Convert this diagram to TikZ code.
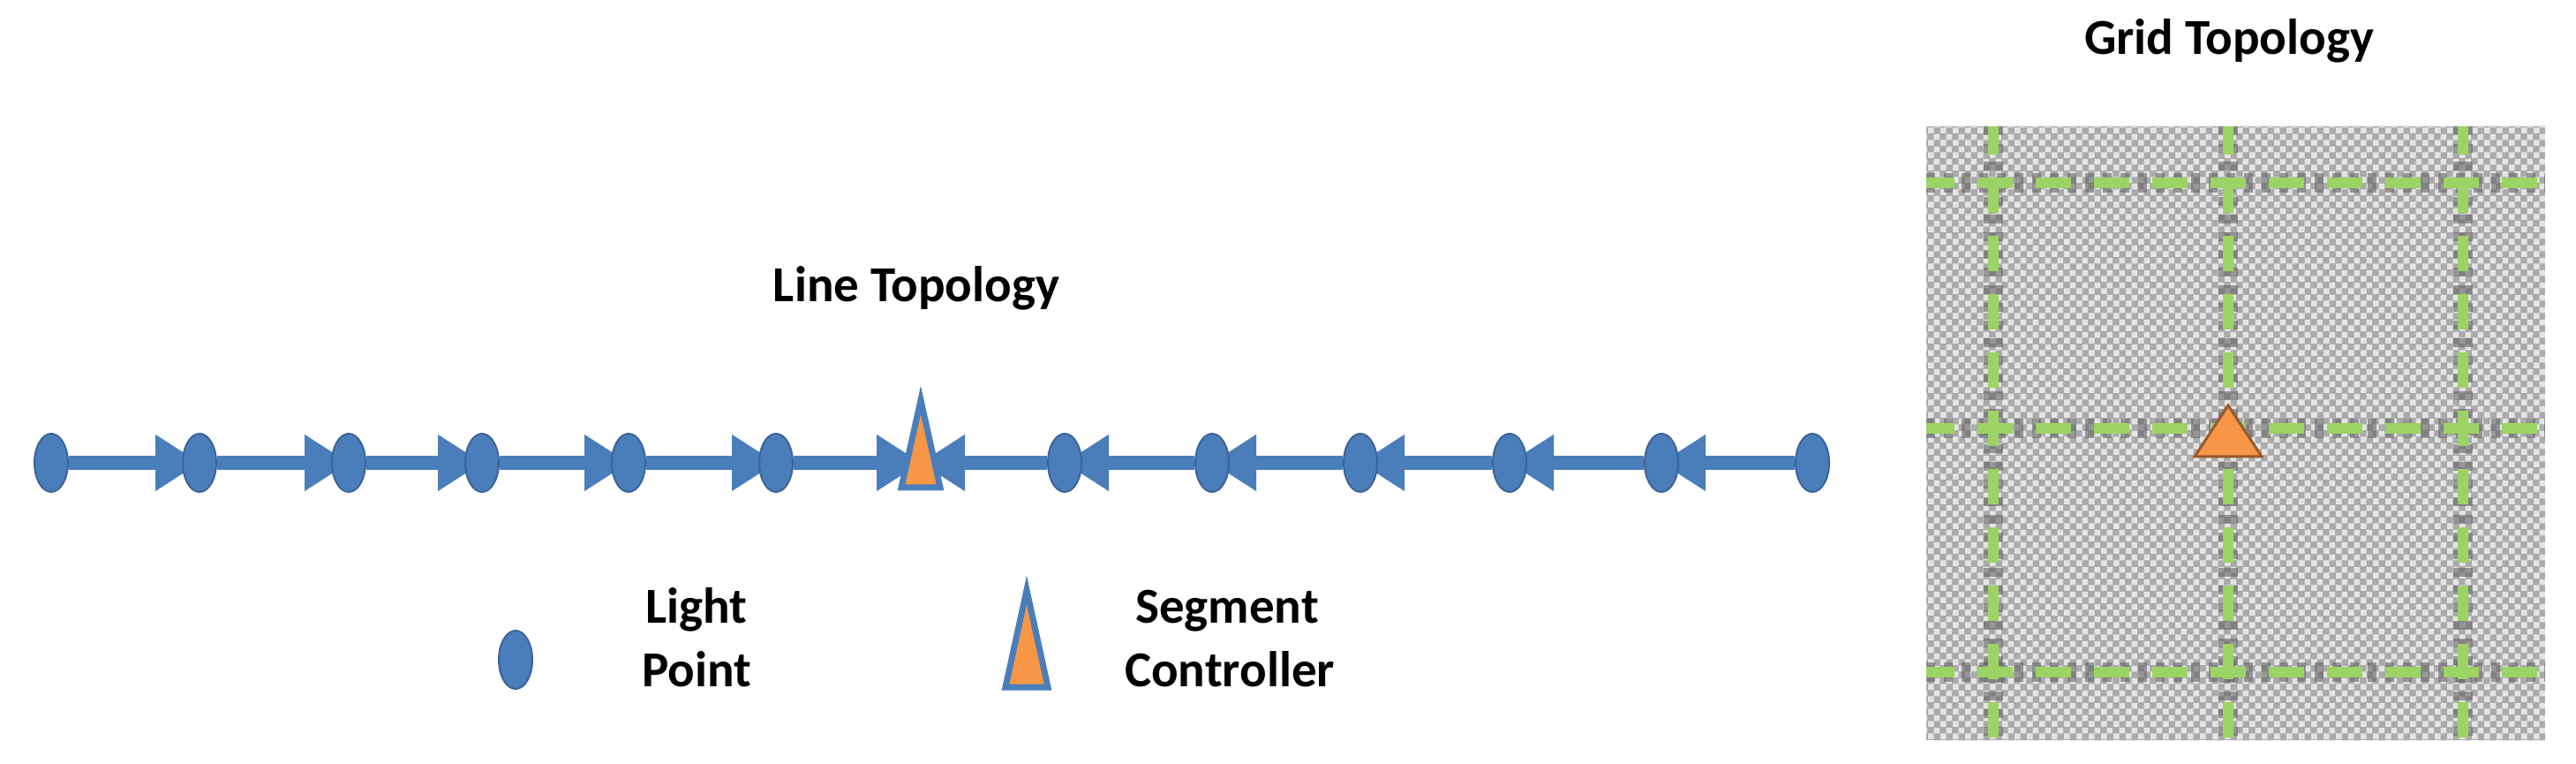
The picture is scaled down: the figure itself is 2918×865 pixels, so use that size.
\documentclass[tikz,border=0pt]{standalone}
\usepackage{fontspec}
\setmainfont{Carlito}
\usetikzlibrary{arrows.meta,patterns,shapes.geometric,calc}
\pgfdeclarepatternformonly{gridcheck}{\pgfpointorigin}{\pgfqpoint{7pt}{7pt}}{\pgfqpoint{7pt}{7pt}}{%
  \pgfpathrectangle{\pgfpointorigin}{\pgfqpoint{3.5pt}{3.5pt}}%
  \pgfpathrectangle{\pgfqpoint{3.5pt}{3.5pt}}{\pgfqpoint{3.5pt}{3.5pt}}%
  \pgfusepath{fill}}
\pgfdeclarelayer{bg}
\pgfsetlayers{bg,main}
\definecolor{lineblue}{RGB}{74,126,187}
\definecolor{darkblue}{RGB}{60,100,150}
\definecolor{scorange}{RGB}{247,150,70}
\definecolor{gridgreen}{RGB}{155,212,100}
\definecolor{gridgray}{RGB}{100,100,100}
\definecolor{checkbg}{RGB}{170,170,170}
\definecolor{checkfg}{RGB}{228,228,228}
\definecolor{tribrown}{RGB}{150,90,45}
\begin{document}
\begin{tikzpicture}[x=0.5pt,y=-0.5pt,
  lpoint/.style={ellipse, fill=lineblue, draw=darkblue, line width=1pt,
    minimum width=19pt, minimum height=33pt, inner sep=0pt},
  scspot/.style={rectangle, minimum width=19pt, minimum height=8pt, inner sep=0pt},
  sctri/.style={fill=scorange, draw=lineblue, line width=3.5pt, line join=miter},
  gsctri/.style={fill=scorange, draw=tribrown, line width=1.5pt, line join=miter},
  conn/.style={draw=lineblue, line width=8pt,
    -{Triangle[length=25pt,width=32pt,line width=0.5pt]}},
  ttl/.style={font=\fontsize{28.5}{34}\selectfont\bfseries, inner sep=0pt, anchor=base},
  gridbox/.style={rectangle, minimum width=350.5pt, minimum height=347.5pt, inner sep=0pt,
    preaction={fill=checkbg}, pattern=gridcheck, pattern color=checkfg},
  gunder/.style={draw=gridgray, line width=11pt, opacity=0.6, dash pattern=on 5pt off 5pt},
  gover/.style={draw=gridgreen, line width=6pt, dash pattern=on 20pt off 13pt, dash phase=4pt}
]
\useasboundingbox (0,0) rectangle (2918,865);

% ---------- Line topology ----------
\node[ttl] (ltitle) at (1038,342) {Line Topology};

% segment controller on the line
\node[scspot] (L6) at (1043,524) {};
\filldraw[sctri] ($(L6)+(0,-71)$) -- ($(L6)+(22,28)$) -- ($(L6)+(-22,28)$) -- cycle;

\foreach \i/\x in {0/58,1/226,2/395,3/546,4/712,5/879,7/1206,8/1373,9/1541,10/1710,11/1882,12/2053}
  \node[lpoint] (L\i) at (\x,524) {};

\begin{pgfonlayer}{bg}
\draw[conn] (L0) -- (L1.center);
\draw[conn] (L1) -- (L2.center);
\draw[conn] (L2) -- (L3.center);
\draw[conn] (L3) -- (L4.center);
\draw[conn] (L4) -- (L5.center);
\draw[conn] (L5) -- (L6.center);
\draw[conn] (L7) -- (L6.center);
\draw[conn] (L8) -- (L7.center);
\draw[conn] (L9) -- (L8.center);
\draw[conn] (L10) -- (L9.center);
\draw[conn] (L11) -- (L10.center);
\draw[conn] (L12) -- (L11.center);
\end{pgfonlayer}

% ---------- Legend ----------
\node[lpoint] (lgpt) at (584,747) {};
\node[ttl] (lgpt1) at (789,705) {Light};
\node[ttl] (lgpt2) at (789,777) {Point};

\node[scspot] (lgsc) at (1163,740) {};
\filldraw[sctri] ($(lgsc)+(0,-72)$) -- ($(lgsc)+(24,38)$) -- ($(lgsc)+(-24,38)$) -- cycle;
\node[ttl] (lgsc1) at (1390,705) {Segment};
\node[ttl] (lgsc2) at (1393,777) {Controller};

% ---------- Grid topology ----------
\node[ttl] (gtitle) at (2525,62) {Grid Topology};
\node[gridbox] (grid) at (2532.5,490.5) {};

\coordinate (v1t) at (2258,143); \coordinate (v1b) at (2258,838);
\coordinate (v2t) at (2524,143); \coordinate (v2b) at (2524,838);
\coordinate (v3t) at (2790,143); \coordinate (v3b) at (2790,838);
\coordinate (h1l) at (2182,207); \coordinate (h1r) at (2883,207);
\coordinate (h2l) at (2182,485); \coordinate (h2r) at (2883,485);
\coordinate (h3l) at (2182,761); \coordinate (h3r) at (2883,761);

\begin{scope}
  \clip (grid.north west) rectangle (grid.south east);
  \foreach \a/\b in {v1t/v1b,v2t/v2b,v3t/v3b,h1l/h1r,h2l/h2r,h3l/h3r}
    \draw[gunder] (\a) -- (\b);
  \foreach \a/\b in {v1t/v1b,v2t/v2b,v3t/v3b,h1l/h1r,h2l/h2r,h3l/h3r}
    \draw[gover] (\a) -- (\b);
\end{scope}

\coordinate (gsc) at (2524,489);
\filldraw[gsctri] ($(gsc)+(0,-30)$) -- ($(gsc)+(38,28)$) -- ($(gsc)+(-38,28)$) -- cycle;
\end{tikzpicture}
\end{document}
